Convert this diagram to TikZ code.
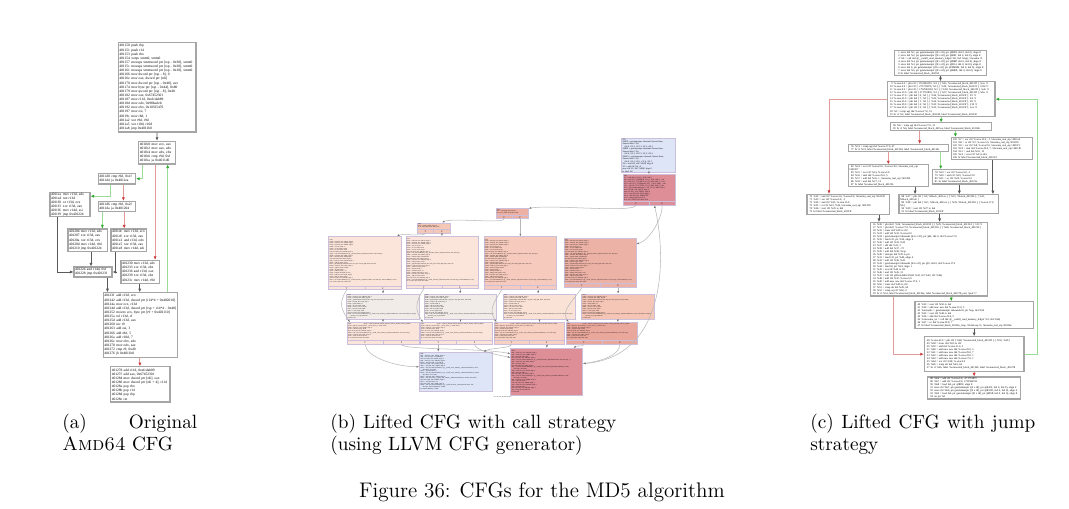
\documentclass[tikz,border=0pt]{standalone}
\usepackage{fontspec}
\usepackage{xcolor}
\usepackage{tikz}
\usetikzlibrary{arrows.meta,calc}
\newfontfamily\cfgfont{Liberation Serif}
\definecolor{coolblue}{HTML}{DDE5F7}
\definecolor{hotred}{HTML}{DD8E97}
\definecolor{warmA}{HTML}{EDB0A2}
\definecolor{warmB}{HTML}{F5C7B6}
\definecolor{warmC}{HTML}{F6CABC}
\definecolor{warmD}{HTML}{ECB2A6}
\definecolor{warmE}{HTML}{F5C5B6}
\definecolor{warmF}{HTML}{F8D1C3}
\definecolor{warmG}{HTML}{EAA89D}
\definecolor{paleA}{HTML}{FBE5DB}
\definecolor{paleC}{HTML}{FBE2D7}
\definecolor{greyA}{HTML}{F1ECE8}
\definecolor{recframe}{HTML}{CBBFDB}
\definecolor{llgray}{HTML}{B8B8B8}
\definecolor{takenline}{HTML}{9ADB9A}
\definecolor{takenhead}{HTML}{2EAA2E}
\definecolor{nottakenline}{HTML}{E59A9A}
\definecolor{nottakenhead}{HTML}{D03A3A}

\newcommand{\adr}[1]{\makebox[3.4em][l]{#1}}
\newcommand{\lno}[1]{\makebox[1.6em][r]{#1}\enspace}
\newcommand{\tfrow}{\rule[-2.5pt]{0pt}{0pt}}
\newcommand{\irround}[3]{%
\%#1:\\
\%a#1 = load i32, i32* \%ECX, align 4\\
\%b#1 = load i32, i32* \%EDX, align 4\\
\%c#1 = load i32, i32* \%EBX, align 4\\
\%d#1 = xor i32 \%c#1, -1\\
\%e#1 = or i32 \%d#1, \%b#1\\
\%f#1 = xor i32 \%e#1, \%a#1\\
store i32 \%f#1, i32* \%R13D, align 4\\
\%g#1 = call \%struct.Memory* @\_\_mcsema\_detach\_call(\%struct.State* \%0, i64 \%pc)\\
\%h#1 = load i64, i64* \%RSI, align 8\\
\%i#1 = and i64 \%h#1, 4294967295\\
store i64 \%i#1, i64* \%R14, align 8\\
\%j#1 = load i32, i32* \%R13D, align 4\\
\%k#1 = add i32 \%j#1, \%a#1\\
\%l#1 = getelementptr inbounds [64 x i32], [64 x i32]* @K, i64 0, i64 \%14\\
\%m#1 = load i32, i32* \%l#1, align 4\\
\%n#1 = add i32 \%k#1, \%m#1\\
\%o#1 = shl i64 \%i#1, 2\\
\%p#1 = add i64 \%o#1, -72\\
\%q#1 = inttoptr i64 \%p#1 to i32*\\
\%r#1 = load i32, i32* \%q#1, align 4\\
\%s#1 = add i32 \%n#1, \%r#1\\
store i32 \%s#1, i32* \%R13D, align 4\\
\%t#1 = call \%struct.Memory* @\_\_remill\_function\_call(\%struct.State* \%0, i64 \%pc, \%struct.Memory* \%12)\\
br i1 \%u#1, label \%#2, label \%#3\tfrow}
\newcommand{\irrot}[2]{%
\%#1:\\
\%a#1 = load i32, i32* \%R13D, align 4\\
\%b#1 = load i64, i64* \%R9, align 8\\
\%c#1 = getelementptr inbounds [64 x i8], [64 x i8]* @S, i64 0, i64 \%b#1\\
\%d#1 = load i8, i8* \%c#1, align 1\\
\%f#1 = and i8 \%d#1, 31\\
\%g#1 = shl i32 \%a#1, \%f#1\\
\%h#1 = sub nsw i32 32, \%f#1\\
\%i#1 = lshr i32 \%a#1, \%h#1\\
\%j#1 = or i32 \%g#1, \%i#1\\
store i32 \%j#1, i32* \%R13D, align 4\\
\%k#1 = tail call \%struct.Memory* @\_\_remill\_write\_memory\_32(\%struct.Memory* \%12, i64 \%b#1, i32 \%j#1)\\
\hspace*{1.5em}; mcsema\_real\_eip 0x40125a\\
br label \%#2}
\newcommand{\irmix}[3]{%
\%#1:\hspace{8em}; preds = \%block\_401230, \%block\_401224, \%block\_401204, \%block\_4011dc\\
\%a#1 = phi i32 [ \%s20, \%20 ], [ \%s32, \%32 ], [ \%s44, \%44 ]\\
\%b#1 = load i32, i32* \%EAX, align 4\\
\%c#1 = add i32 \%a#1, \%b#1\\
store i32 \%c#1, i32* \%R13D, align 4\\
\%d#1 = tail call \%struct.Memory* @\_\_remill\_write\_memory\_32(\%struct.Memory* \%12, i64 \%rsp)\\
\%e#1 = load i64, i64* \%R9, align 8\\
\%f#1 = icmp ult i64 \%e#1, 64\\
br i1 \%f#1, label \%#2, label \%#3\tfrow}

\tikzset{
  asmbox/.style={draw=black!35, line width=.6pt, fill=white, align=left, inner xsep=.6pt, inner ysep=.3pt, font=\cfgfont\fontsize{2}{2.35}\selectfont},
  ljbox/.style={asmbox, font=\cfgfont\fontsize{1.5}{1.72}\selectfont},
  irbox/.style={draw=recframe, line width=.3pt, align=left, inner xsep=.5pt, inner ysep=.3pt},
  recline/.style={draw=recframe, line width=.25pt},
  tfcell/.style={anchor=south, inner sep=.2pt, font=\cfgfont\fontsize{1.3}{1.3}\selectfont},
  tfrec/.style={append after command={\pgfextra{\edef\recname{\tikzlastnode}}
    ([yshift=2.2pt]\recname.south west) edge[recline] ([yshift=2.2pt]\recname.south east)
    ([yshift=2.2pt]\recname.south) edge[recline] (\recname.south)
    ($(\recname.south west)!.25!(\recname.south east)$) node[tfcell] {T}
    ($(\recname.south west)!.75!(\recname.south east)$) node[tfcell] {F}}},
  tkn/.style={draw=takenline, line width=.5pt, -{Latex[length=2pt,width=1.8pt,color=takenhead]}},
  ntk/.style={draw=nottakenline, line width=.5pt, -{Latex[length=2pt,width=1.8pt,color=nottakenhead]}},
  jmp/.style={draw=black!65, line width=.5pt, -{Latex[length=2pt,width=1.8pt]}},
  lledge/.style={draw=llgray, line width=.3pt, -{Latex[length=1.5pt,width=1.1pt,color=black!55]}},
  capt/.style={font=\fontsize{10.95}{12.6}\selectfont, align=left, inner sep=0pt, anchor=north west},
}

\begin{document}
\begin{tikzpicture}[x=0.02cm, y=-0.02cm]
\path[use as bounding box, fill=white] (0,0) rectangle (1069,509);%
% (a) original AMD64 CFG
\node[asmbox, text width=1.512cm, minimum height=1.786cm] (b1) at (157.15,87.35) {\adr{401150}push rbp\\\adr{401151}push r14\\\adr{401153}push rbx\\\adr{401154}xorps xmm0, xmm0\\\adr{401157}movaps xmmword ptr [rsp - 0x38], xmm0\\\adr{40115c}movaps xmmword ptr [rsp - 0x28], xmm0\\\adr{401161}movaps xmmword ptr [rsp - 0x18], xmm0\\\adr{401166}mov dword ptr [rsp - 8], 0\\\adr{40116e}mov eax, dword ptr [rdi]\\\adr{401170}mov dword ptr [rsp - 0x48], eax\\\adr{401174}mov byte ptr [rsp - 0x44], 0x80\\\adr{401179}mov qword ptr [rsp - 8], 0x40\\\adr{401182}mov eax, 0x67452301\\\adr{401187}mov r11d, 0xefcdab89\\\adr{40118d}mov edx, 0x98badcfe\\\adr{401192}mov ebx, 0x10325476\\\adr{401197}mov esi, 7\\\adr{40119c}mov r8d, 1\\\adr{4011a2}xor r9d, r9d\\\adr{4011a5}xor r10d, r10d\\\adr{4011a8}jmp 0x4011b0};%
\node[asmbox, text width=0.69cm, minimum height=0.454cm] (b2) at (157,152.65) {\adr{4011b0}mov ecx, eax\\\adr{4011b2}mov eax, edx\\\adr{4011b4}mov edx, ebx\\\adr{4011b6}cmp r9d, 0xf\\\adr{4011ba}ja 0x4011d0};%
\node[asmbox, text width=0.702cm, minimum height=0.21cm] (b3) at (116.9,178.75) {\adr{4011d0}cmp r9d, 0x1f\\\adr{4011d4}ja 0x4011ea};%
\node[asmbox, text width=0.758cm, minimum height=0.45cm] (b4) at (70,204.5) {\adr{4011ea}mov r13d, edx\\\adr{4011ed}not r13d\\\adr{4011f0}or r13d, ecx\\\adr{4011f3}xor r13d, eax\\\adr{4011f6}mov r14d, esi\\\adr{4011f9}jmp 0x401224};%
\node[asmbox, text width=0.702cm, minimum height=0.2cm] (b5) at (116.9,206.4) {\adr{4011d6}cmp r9d, 0x2f\\\adr{4011da}ja 0x401204};%
\node[asmbox, text width=0.748cm, minimum height=0.45cm] (b6) at (87.75,240.25) {\adr{401204}mov r13d, edx\\\adr{401207}xor r13d, eax\\\adr{40120a}xor r13d, ecx\\\adr{40120d}mov r14d, r8d\\\adr{401210}jmp 0x401224};%
\node[asmbox, text width=0.66cm, minimum height=0.45cm] (b7) at (128.55,240.25) {\adr{4011dc}mov r13d, ecx\\\adr{4011df}xor r13d, eax\\\adr{4011e2}and r13d, edx\\\adr{4011e5}xor r13d, eax\\\adr{4011e8}mov r14d, edi};%
\node[asmbox, text width=0.718cm, minimum height=0.2cm] (b8) at (93,272) {\adr{401224}and r14d, 0xf\\\adr{401228}jmp 0x40123f};%
\node[asmbox, text width=0.724cm, minimum height=0.46cm] (b9) at (140.15,271.8) {\adr{401230}mov r13d, edx\\\adr{401233}xor r13d, ebx\\\adr{401236}and r13d, eax\\\adr{401239}xor r13d, ebx\\\adr{40123c}mov r14d, r9d};%
\node[asmbox, text width=1.438cm, minimum height=1.292cm] (b10) at (140.3,325) {\adr{40123f}add r13d, ecx\\\adr{401242}add r13d, dword ptr [r14*4 + 0x402010]\\\adr{40124a}mov ecx, r13d\\\adr{40124d}add r13d, dword ptr [rsp + r14*4 - 0x48]\\\adr{401252}movzx ecx, byte ptr [r9 + 0x402110]\\\adr{40125a}rol r13d, cl\\\adr{40125d}add r13d, eax\\\adr{401260}inc r9\\\adr{401263}add esi, 3\\\adr{401266}add r8d, 5\\\adr{40126a}add r10d, 7\\\adr{40126e}mov ebx, edx\\\adr{401270}mov edx, eax\\\adr{401272}cmp r9, 0x40\\\adr{401276}jb 0x4011b0};%
\node[asmbox, text width=1.144cm, minimum height=0.706cm] (b11) at (140.35,384.35) {\adr{401278}add r11d, 0xefcdab89\\\adr{40127f}add eax, 0x67452301\\\adr{401284}mov dword ptr [rdi], eax\\\adr{401286}mov dword ptr [rdi + 4], r11d\\\adr{40128a}pop rbx\\\adr{40128b}pop r14\\\adr{40128d}pop rbp\\\adr{40128e}ret};%
\draw[jmp] (b1) -- (b2);%
\draw[tkn] ($(b2.south west)!.12!(b2.south east)$) |- (b3.east);%
\draw[ntk] ($(b2.south west)!.45!(b2.south east)$) coordinate (b2f) -- (b2f |- b9.north);%
\draw[tkn] ($(b10.north west)!.865!(b10.north east)$) coordinate (b10b) -- (b10b |- b2.south);%
\draw[tkn] ($(b3.south west)!.33!(b3.south east)$) |- ($(b4.north east)!.18!(b4.south east)$);%
\draw[ntk] ($(b3.south west)!.67!(b3.south east)$) coordinate (b3f) -- (b3f |- b5.north);%
\draw[tkn] ($(b5.south west)!.12!(b5.south east)$) coordinate (b5t) -- (b5t |- b6.north);%
\draw[ntk] ($(b5.south west)!.69!(b5.south east)$) coordinate (b5f) -- (b5f |- b7.north);%
\draw[jmp] ($(b4.south west)!.2!(b4.south east)$) |- (b8.west);%
\draw[jmp] ($(b6.south west)!.58!(b6.south east)$) coordinate (b6o) -- (b6o |- b8.north);%
\draw[jmp] ($(b7.south west)!.14!(b7.south east)$) |- (b8.east);%
\draw[jmp] ($(b8.south west)!.87!(b8.south east)$) coordinate (b8o) -- (b8o |- b10.north);%
\draw[jmp] ($(b9.south west)!.49!(b9.south east)$) coordinate (b9o) -- (b9o |- b10.north);%
\draw[ntk] ($(b10.south west)!.495!(b10.south east)$) coordinate (b10o) -- (b10o |- b11.north);%
% (b) lifted CFG, call strategy
\node[irbox, fill=coolblue, font=\cfgfont\fontsize{1.2}{1.4}\selectfont, text width=1.045cm, minimum height=0.614cm] (t1) at (648.7,155.35) {\%3:\\\%RSP = getelementptr inbounds \%struct.State, \%struct.State* \%0,\\\hspace*{1em}i64 0, i32 6, i32 13, i32 0, i32 0\\\%RBP = getelementptr inbounds \%struct.State, \%struct.State* \%0,\\\hspace*{1em}i64 0, i32 6, i32 15, i32 0, i32 0\\\%RAX = getelementptr inbounds \%struct.State, \%struct.State* \%0,\\\hspace*{1em}i64 0, i32 6, i32 1, i32 0, i32 0\\\%4 = load i64, i64* \%RSP, align 8\\\%5 = add i64 \%4, -8\\store i64 \%5, i64* \%RSP, align 8\\br label \%6};%
\node[irbox, tfrec, fill=hotred, font=\cfgfont\fontsize{1}{1.13}\selectfont, text width=0.999cm, minimum height=0.59cm] (t2) at (649.15,189.75) {\%6:\\\%7 = phi i64 [ 0, \%3 ], [ \%95, \%80 ]\\\%8 = phi i32 [ 1732584193, \%3 ], [ \%93, \%80 ], ; eax\\\%9 = phi i32 [ -271733879, \%3 ], [ \%92, \%80 ], ; r11d\\\%10 = phi i32 [ -1732584194, \%3 ], [ \%91, \%80 ], ; edx\\\%11 = phi i32 [ 271733878, \%3 ], [ \%90, \%80 ], ; ebx\\\%12 = phi \%struct.Memory* [ \%2, \%3 ], [ \%89, \%80 ]\\store i32 \%8, i32* \%ECX, align 4\\store i32 \%11, i32* \%EDX, align 4\\\%13 = load i64, i64* \%R9, align 8\\\%14 = and i64 \%13, 4294967295\\\%15 = icmp ugt i64 \%14, 15\\br i1 \%15, label \%16, label \%56\tfrow};%
\node[irbox, tfrec, fill=warmA, font=\cfgfont\fontsize{.9}{1}\selectfont, text width=0.611cm, minimum height=0.186cm] (t3) at (512.15,213.65) {\%16:\\\%17 = icmp ugt i64 \%14, 31\\br i1 \%17, label \%18, label \%44\tfrow};%
\node[irbox, tfrec, fill=warmB, font=\cfgfont\fontsize{.9}{1}\selectfont, text width=0.619cm, minimum height=0.18cm] (t4) at (433.65,227.8) {\%18:\\\%19 = icmp ugt i64 \%14, 47\\br i1 \%19, label \%20, label \%32\tfrow};%
\node[irbox, tfrec, fill=paleA, font=\cfgfont\fontsize{.85}{1}\selectfont, text width=1.411cm, minimum height=1.064cm] (r1) at (364.85,263.1) {\irround{20}{26}{28}};%
\node[irbox, tfrec, fill=paleA, font=\cfgfont\fontsize{.85}{1}\selectfont, text width=1.405cm, minimum height=1.04cm] (r2) at (442,262.5) {\irround{32}{38}{40}};%
\node[irbox, tfrec, fill=warmC, font=\cfgfont\fontsize{.85}{1}\selectfont, text width=1.405cm, minimum height=1.052cm] (r3) at (520,263) {\irround{44}{50}{52}};%
\node[irbox, tfrec, fill=warmD, font=\cfgfont\fontsize{.85}{1}\selectfont, text width=1.405cm, minimum height=0.98cm] (r4) at (600,262.8) {\irround{56}{62}{64}};%
\node[irbox, fill=greyA, font=\cfgfont\fontsize{.85}{1}\selectfont, text width=1.417cm, minimum height=0.496cm] (s1) at (383,306.4) {\irrot{28}{30}};%
\node[irbox, fill=greyA, font=\cfgfont\fontsize{.85}{1}\selectfont, text width=1.413cm, minimum height=0.496cm] (s2) at (460.5,306.4) {\irrot{40}{42}};%
\node[irbox, fill=paleC, font=\cfgfont\fontsize{.85}{1}\selectfont, text width=1.413cm, minimum height=0.496cm] (s3) at (539.5,306.4) {\irrot{52}{54}};%
\node[irbox, fill=warmE, font=\cfgfont\fontsize{.85}{1}\selectfont, text width=1.411cm, minimum height=0.496cm] (s4) at (617.85,306.4) {\irrot{64}{66}};%
\node[irbox, tfrec, fill=paleA, font=\cfgfont\fontsize{.85}{1}\selectfont, text width=1.405cm, minimum height=0.43cm] (u1) at (383.3,333.25) {\irmix{30}{96}{80}};%
\node[irbox, tfrec, fill=paleA, font=\cfgfont\fontsize{.85}{1}\selectfont, text width=1.409cm, minimum height=0.43cm] (u2) at (456.4,333.25) {\irmix{42}{96}{80}};%
\node[irbox, tfrec, fill=warmF, font=\cfgfont\fontsize{.85}{1}\selectfont, text width=1.371cm, minimum height=0.43cm] (u3) at (529.15,333.25) {\irmix{54}{96}{80}};%
\node[irbox, tfrec, fill=warmG, font=\cfgfont\fontsize{.85}{1}\selectfont, text width=1.399cm, minimum height=0.43cm] (u4) at (601.85,333.25) {\irmix{66}{80}{80}};%
\node[irbox, fill=coolblue, font=\cfgfont\fontsize{.9}{1}\selectfont, text width=1.415cm, minimum height=0.78cm] (v1) at (455.75,371.5) {\%96:\\\%97 = load i32, i32* \%EAX, align 4\\\%98 = add i32 \%97, 1732584193\\store i32 \%98, i32* \%EAX, align 4\\\%99 = load i32, i32* \%R11D, align 4\\\%100 = add i32 \%99, -271733879\\store i32 \%100, i32* \%R11D, align 4\\\%101 = load i64, i64* \%RDI, align 8\\\%102 = tail call \%struct.Memory* @\_\_remill\_write\_memory\_32(\%struct.Memory* \%12,\\\hspace*{1.5em}i64 \%101, i32 \%98)\\\%103 = add i64 \%101, 4\\\%104 = tail call \%struct.Memory* @\_\_remill\_write\_memory\_32(\%struct.Memory* \%102,\\\hspace*{1.5em}i64 \%103, i32 \%100)\\\%105 = load i64, i64* \%RSP, align 8\\\%106 = tail call i64 @\_\_remill\_read\_memory\_64(\%struct.Memory* \%104, i64 \%105)\\store i64 \%106, i64* \%RBX, align 8\\\%107 = add i64 \%105, 24\\store i64 \%107, i64* \%RSP, align 8\\\%108 = tail call \%struct.Memory* @\_\_remill\_function\_return(\%struct.State* \%0,\\\hspace*{1.5em}i64 \%pc, \%struct.Memory* \%104)\\ret \%struct.Memory* \%108};%
\node[irbox, fill=hotred, font=\cfgfont\fontsize{.9}{1}\selectfont, text width=1.405cm, minimum height=0.934cm] (v2) at (546.7,371.65) {\%80:\\\%81 = load i32, i32* \%R13D, align 4\\\%82 = load i32, i32* \%EBX, align 4\\\%83 = add i32 \%81, \%82\\store i32 \%83, i32* \%R13D, align 4\\\%84 = tail call \%struct.Memory* @\_\_remill\_function\_call(\%struct.State* \%0, i64 \%pc, ...)\\\%85 = load i64, i64* \%R9, align 8\\\%86 = add i64 \%85, 1\\store i64 \%86, i64* \%R9, align 8\\\%87 = tail call \%struct.Memory* @\_\_remill\_write\_memory\_64(\%struct.Memory* \%84,\\\hspace*{1.5em}i64 \%rsp, i64 \%86)\\\%88 = load i32, i32* \%ESI, align 4\\\%89 = add i32 \%88, 3\\store i32 \%89, i32* \%ESI, align 4\\\%90 = tail call \%struct.Memory* @\_\_remill\_write\_memory\_32(\%struct.Memory* \%87,\\\hspace*{1.5em}i64 \%rsp, i32 \%89)\\\%91 = load i32, i32* \%R8D, align 4\\\%92 = add i32 \%91, 5\\store i32 \%92, i32* \%R8D, align 4\\\%93 = load i32, i32* \%R10D, align 4\\\%94 = add i32 \%93, 7\\store i32 \%94, i32* \%R10D, align 4\\\%95 = icmp ult i64 \%86, 64\\br label \%6};%
\node[font=\cfgfont\fontsize{.8}{1}\selectfont, inner sep=0pt] (cfgname) at (502.5,397.5) {CFG for 'sub\_401150' function};%
\draw[lledge] (t1) -- (t2);%
\draw[lledge] ($(t2.south west)!.25!(t2.south east)$) .. controls +(-2,8) and +(25,-4) .. (t3.north east);%
\draw[lledge] ($(t2.south west)!.75!(t2.south east)$) .. controls +(0,15) and +(12,-3) .. ($(r4.north east)!.12!(r4.south east)$);%
\draw[lledge] ($(v2.north east)!.33!(v2.south east)$) .. controls +(85,-5) and +(12,50) .. ($(t2.south west)!.6!(t2.south east)$);%
\draw[lledge] ($(t3.south west)!.25!(t3.south east)$) .. controls +(0,5) and +(10,-5) .. ($(t4.north west)!.75!(t4.north east)$);%
\draw[lledge] ($(t3.south west)!.75!(t3.south east)$) coordinate (t3f) -- (t3f |- r3.north);%
\draw[lledge] ($(t4.south west)!.25!(t4.south east)$) .. controls +(0,4) and +(6,-3) .. ($(r1.north west)!.94!(r1.north east)$);%
\draw[lledge] ($(t4.south west)!.75!(t4.south east)$) coordinate (t4f) -- (t4f |- r2.north);%
\draw[lledge] ($(r1.south west)!.25!(r1.south east)$) .. controls +(-9,14) and +(-8,-12) .. ($(u1.north west)!.04!(u1.north east)$);%
\draw[lledge] ($(r1.south west)!.75!(r1.south east)$) coordinate (r1f) -- (r1f |- s1.north);%
\draw[lledge] (s1.south) -- (s1.south |- u1.north);%
\draw[lledge] ($(r2.south west)!.25!(r2.south east)$) .. controls +(-9,14) and +(-8,-12) .. ($(u2.north west)!.04!(u2.north east)$);%
\draw[lledge] ($(r2.south west)!.75!(r2.south east)$) coordinate (r2f) -- (r2f |- s2.north);%
\draw[lledge] (s2.south) -- (s2.south |- u2.north);%
\draw[lledge] ($(r3.south west)!.25!(r3.south east)$) .. controls +(-9,14) and +(-8,-12) .. ($(u3.north west)!.04!(u3.north east)$);%
\draw[lledge] ($(r3.south west)!.75!(r3.south east)$) coordinate (r3f) -- (r3f |- s3.north);%
\draw[lledge] (s3.south) -- (s3.south |- u3.north);%
\draw[lledge] ($(r4.south west)!.25!(r4.south east)$) .. controls +(-9,14) and +(-8,-12) .. ($(u4.north west)!.04!(u4.north east)$);%
\draw[lledge] ($(r4.south west)!.75!(r4.south east)$) coordinate (r4f) -- (r4f |- s4.north);%
\draw[lledge] (s4.south) -- (s4.south |- u4.north);%
\draw[lledge] ($(u1.south west)!.25!(u1.south east)$) .. controls +(0,12) and +(-25,0) .. ($(v1.north west)!.38!(v1.south west)$);%
\draw[lledge] ($(u1.south west)!.75!(u1.south east)$) .. controls +(0,6) and +(-30,-6) .. ($(v2.north west)!.12!(v2.south west)$);%
\draw[lledge] ($(u2.south west)!.25!(u2.south east)$) coordinate (u2t) -- (u2t |- v1.north);%
\draw[lledge] ($(u2.south west)!.75!(u2.south east)$) .. controls +(0,6) and +(-15,-3) .. ($(v2.north west)!.2!(v2.south west)$);%
\draw[lledge] ($(u3.south west)!.25!(u3.south east)$) .. controls +(0,4) and +(8,-4) .. ($(v1.north west)!.88!(v1.north east)$);%
\draw[lledge] ($(u3.south west)!.75!(u3.south east)$) coordinate (u3f) -- (u3f |- v2.north);%
\draw[lledge] ($(u4.south west)!.25!(u4.south east)$) .. controls +(0,3) and +(4,-3) .. ($(v2.north west)!.87!(v2.north east)$);%
\draw[lledge] ($(u4.south west)!.75!(u4.south east)$) .. controls +(0,12) and +(15,-2) .. ($(v2.north east)!.33!(v2.south east)$);%
% (c) lifted CFG, jump strategy
\node[ljbox, text width=1.806cm, minimum height=0.486cm] (c1) at (940.5,62.85) {\lno{1}store i64 \%1, ptr getelementptr ([8 x i8], ptr @RDI, i64 0, i64 0), align 8\\\lno{2}store i64 \%2, ptr getelementptr ([8 x i8], ptr @RSI, i64 0, i64 0), align 8\\\lno{3}\%4 = call i64 @\_\_remill\_read\_memory\_64(ptr \%0, i64 \%rsp), !mcsema !3\\\lno{4}store i64 \%4, ptr getelementptr ([8 x i8], ptr @RBP, i64 0, i64 0), align 8\\\lno{5}store i64 \%3, ptr getelementptr ([8 x i8], ptr @R14, i64 0, i64 0), align 8\\\lno{6}store i64 0, ptr getelementptr ([16 x i8], ptr @XMM0, i64 0, i64 0), align 8\\\lno{7}store i64 \%5, ptr getelementptr ([8 x i8], ptr @RBX, i64 0, i64 0), align 8\\\lno{8}br label \%connected\_block\_4011b0};%
\node[ljbox, text width=2.112cm, minimum height=0.7cm] (c2) at (941.15,99.2) {\lno{9}\%.sroa.0.0 = phi i32 [ 1732584193, \%3 ], [ \%41, \%connected\_block\_40123f ], !eax !1\\\lno{10}\%.sroa.5.0 = phi i32 [ -271733879, \%3 ], [ \%39, \%connected\_block\_40123f ], !r11d !1\\\lno{11}\%.sroa.9.0 = phi i32 [ -1732584194, \%3 ], [ \%38, \%connected\_block\_40123f ], !edx !1\\\lno{12}\%.sroa.13.0 = phi i32 [ 271733878, \%3 ], [ \%37, \%connected\_block\_40123f ], !ebx !1\\\lno{13}\%.sroa.17.0 = phi i64 [ 0, \%3 ], [ \%36, \%connected\_block\_40123f ], !r9 !1\\\lno{14}\%.sroa.21.0 = phi i64 [ 7, \%3 ], [ \%35, \%connected\_block\_40123f ], !rsi !1\\\lno{15}\%.sroa.25.0 = phi i64 [ 1, \%3 ], [ \%34, \%connected\_block\_40123f ], !r8 !1\\\lno{16}\%.sroa.29.0 = phi i64 [ 0, \%3 ], [ \%33, \%connected\_block\_40123f ], !r10 !1\\\lno{17}\%.sroa.33.0 = phi i32 [ 0, \%3 ], [ \%32, \%connected\_block\_40123f ], !ecx !1\\\lno{18}\%5 = icmp ugt i64 \%.sroa.17.0, 15\\\lno{19}br i1 \%5, label \%connected\_block\_4011d0, label \%connected\_block\_401230};%
\node[ljbox, text width=1.982cm, minimum height=0.16cm] (c3) at (941.1,126.9) {\lno{58}\%6 = icmp ugt i64 \%.sroa.17.0, 31\\\lno{59}br i1 \%6, label \%connected\_block\_4011ea, label \%connected\_block\_4011d6};%
\node[ljbox, text width=1.574cm, minimum height=0.436cm] (c4) at (992.1,148.4) {\lno{100}\%7 = xor i32 \%.sroa.13.0, -1, !mcsema\_real\_eip !4011ed\\\lno{101}\%8 = or i32 \%7, \%.sroa.5.0, !mcsema\_real\_eip !4011f0\\\lno{102}\%9 = xor i32 \%8, \%.sroa.9.0, !mcsema\_real\_eip !4011f3\\\lno{103}\%10 = mul i64 \%.sroa.29.0, 7, !mcsema\_real\_eip !4011f6\\\lno{104}\%11 = and i64 \%10, 15\\\lno{105}\%12 = zext i32 \%9 to i64\\\lno{106}br label \%connected\_block\_401224};%
\node[ljbox, text width=1.954cm, minimum height=0.144cm] (c5) at (898.4,148.1) {\lno{76}\%13 = icmp ugt i64 \%.sroa.17.0, 47\\\lno{77}br i1 \%13, label \%connected\_block\_401204, label \%connected\_block\_4011dc};%
\node[ljbox, text width=1.554cm, minimum height=0.38cm] (c6) at (888.4,175.5) {\lno{82}\%14 = xor i32 \%.sroa.9.0, \%.sroa.13.0, !mcsema\_real\_eip !401207\\\lno{83}\%15 = xor i32 \%14, \%.sroa.5.0\\\lno{84}\%16 = mul i64 \%.sroa.25.0, 5\\\lno{85}\%17 = add i64 \%16, 1, !mcsema\_real\_eip !40120d\\\lno{86}\%18 = and i64 \%17, 15\\\lno{87}br label \%connected\_block\_401224};%
\node[ljbox, text width=1.062cm, minimum height=0.286cm] (c7) at (959.9,176.85) {\lno{78}\%19 = xor i32 \%.sroa.5.0, -1\\\lno{79}\%20 = and i32 \%19, \%.sroa.13.0\\\lno{80}\%21 = or i32 \%20, \%.sroa.9.0\\\lno{81}br label \%connected\_block\_40121a};%
\node[ljbox, text width=1.604cm, minimum height=0.4cm] (c8) at (848.15,204.5) {\lno{70}\%22 = and i32 \%.sroa.5.0, \%.sroa.9.0, !mcsema\_real\_eip !401230\\\lno{71}\%23 = xor i32 \%.sroa.5.0, -1\\\lno{72}\%24 = and i32 \%23, \%.sroa.13.0\\\lno{73}\%25 = or i32 \%22, \%24, !mcsema\_real\_eip !401239\\\lno{74}\%26 = zext i32 \%25 to i64\\\lno{75}br label \%connected\_block\_40123f};%
\node[ljbox, text width=1.944cm, minimum height=0.336cm] (c9) at (948.65,203.9) {\lno{88}\%27 = phi i32 [ \%9, \%block\_4011ea ], [ \%15, \%block\_401204 ], [ \%21, \%block\_4011dc ]\\\lno{89}\%28 = phi i64 [ \%11, \%block\_4011ea ], [ \%18, \%block\_401204 ], [ \%.sroa.17.0, \%b ]\\\lno{90}\%29 = zext i32 \%27 to i64\\\lno{91}br label \%connected\_block\_40123f};%
\node[ljbox, text width=2.294cm, minimum height=1.47cm] (c10) at (928.9,259.25) {\lno{16}\%30 = phi i64 [ \%26, \%connected\_block\_401230 ], [ \%29, \%connected\_block\_401224 ], !r13 !1\\\lno{17}\%31 = phi i64 [ \%.sroa.17.0, \%connected\_block\_401230 ], [ \%28, \%connected\_block\_401224 ]\\\lno{18}\%32 = trunc i64 \%30 to i32\\\lno{19}\%33 = add i32 \%32, \%.sroa.0.0\\\lno{20}\%34 = getelementptr inbounds [64 x i32], ptr @K, i64 0, i64 \%.sroa.17.0\\\lno{21}\%35 = load i32, ptr \%34, align 4\\\lno{22}\%36 = add i32 \%33, \%35\\\lno{23}\%37 = shl i64 \%31, 2\\\lno{24}\%38 = add i64 \%37, -72\\\lno{25}\%39 = add i64 \%38, \%rsp\\\lno{26}\%40 = inttoptr i64 \%39 to ptr\\\lno{27}\%41 = load i32, ptr \%40, align 4\\\lno{28}\%42 = add i32 \%36, \%41\\\lno{29}\%43 = getelementptr inbounds [64 x i8], ptr @S, i64 0, i64 \%.sroa.17.0\\\lno{30}\%44 = load i8, ptr \%43, align 1\\\lno{31}\%45 = zext i8 \%44 to i32\\\lno{32}\%46 = and i32 \%45, 31\\\lno{33}\%47 = call i32 @llvm.fshl.i32(i32 \%42, i32 \%42, i32 \%46)\\\lno{34}\%48 = add i32 \%47, \%.sroa.5.0\\\lno{35}\%49 = add nuw nsw i64 \%.sroa.17.0, 1\\\lno{36}\%50 = trunc i64 \%49 to i32\\\lno{37}\%51 = icmp ult i64 \%49, 64\\\lno{38}\%52 = icmp eq i32 \%50, 0\\\lno{39}br i1 \%51, label \%connected\_block\_40126e, label \%connected\_block\_401278\_exit, !prof !7};%
\node[ljbox, text width=2.324cm, minimum height=0.532cm] (c11) at (974.15,315) {\lno{40}\%53 = zext i32 \%50 to i64\\\lno{41}\%54 = add nuw nsw i64 \%.sroa.21.0, 3\\\lno{42}\%arrayidx = getelementptr inbounds i8, ptr \%sp, i64 \%54\\\lno{43}\%55 = zext i32 \%48 to i64\\\lno{44}\%56 = add i64 \%.sroa.25.0, 5\\\lno{45}\%.mcsema\_ret = call i64 @\_\_remill\_read\_memory\_64(ptr \%2, i64 \%56)\\\lno{46}\%57 = or i64 \%.sroa.29.0, 7\\\lno{47}br label \%connected\_block\_40126e\_loop, !llvm.loop !5, !mcsema\_real\_eip !40126e};%
\node[ljbox, text width=1.952cm, minimum height=0.7cm] (c12) at (974.15,354.2) {\lno{48}\%.sroa.45.0 = phi i32 [ \%48, \%connected\_block\_40123f ], [ \%55, \%40 ]\\\lno{49}\%58 = trunc i64 \%53 to i32\\\lno{50}\%59 = add i64 \%.sroa.21.0, 3\\\lno{51}\%60 = add nuw nsw i64 \%.sroa.25.0, 5\\\lno{52}\%61 = add nuw nsw i64 \%.sroa.29.0, 7\\\lno{53}\%62 = add nuw nsw i64 \%.sroa.33.0, 1\\\lno{54}\%63 = add nuw nsw i64 \%.sroa.17.0, 1\\\lno{55}\%64 = xor i32 \%58, \%.sroa.9.0\\\lno{56}\%65 = icmp ult i64 \%63, 64\\\lno{57}br i1 \%65, label \%connected\_block\_4011b0, label \%connected\_block\_401278};%
\node[ljbox, text width=1.818cm, minimum height=0.44cm] (c13) at (974.2,388) {\lno{88}\%66 = add i32 \%.sroa.5.0, -271733879\\\lno{89}\%67 = add i32 \%.sroa.0.0, 1732584193\\\lno{90}\%68 = load i64, ptr @RDI, align 8\\\lno{91}store i32 \%67, ptr getelementptr ([4 x i8], ptr @EAX, i64 0, i64 0), align 4\\\lno{92}store i32 \%66, ptr getelementptr ([4 x i8], ptr @R11D, i64 0, i64 0), align 4\\\lno{93}\%69 = load i64, ptr getelementptr ([8 x i8], ptr @RSP, i64 0, i64 0), align 8\\\lno{94}ret ptr \%2};%
\draw[jmp] (c1.south) -- (c1.south |- c2.north);%
\draw[tkn] (c2.south) -- (c2.south |- c3.north);%
\draw[ntk] (c2.west) -| ($(c8.north west)!.27!(c8.north east)$);%
\draw[tkn] (c12.east) -- ++(12.5,0) |- (c2.east);%
\draw[ntk] ($(c3.south west)!.29!(c3.south east)$) coordinate (c3f) -- (c3f |- c5.north);%
\draw[tkn] ($(c3.south west)!.64!(c3.south east)$) coordinate (c3t) -- (c3t |- c4.north);%
\draw[ntk] ($(c5.south west)!.4!(c5.south east)$) coordinate (c5f) -- (c5f |- c6.north);%
\draw[tkn] ($(c5.south west)!.92!(c5.south east)$) coordinate (c5t) -- (c5t |- c7.north);%
\draw[jmp] ($(c6.south west)!.83!(c6.south east)$) coordinate (c6o) -- (c6o |- c9.north);%
\draw[jmp] ($(c7.south west)!.49!(c7.south east)$) coordinate (c7o) -- (c7o |- c9.north);%
\draw[jmp] ($(c4.south west)!.51!(c4.south east)$) coordinate (c4o) -- (c4o |- c9.north);%
\draw[jmp] ($(c8.south west)!.87!(c8.south east)$) coordinate (c8o) -- (c8o |- c10.north);%
\draw[jmp] ($(c9.south west)!.41!(c9.south east)$) coordinate (c9o) -- (c9o |- c10.north);%
\draw[tkn] ($(c10.south west)!.69!(c10.south east)$) coordinate (c10t) -- (c10t |- c11.north);%
\draw[ntk] ($(c10.south west)!.195!(c10.south east)$) |- (c12.west);%
\draw[jmp] (c11.south) -- (c11.south |- c12.north);%
\draw[ntk] (c12.south) -- (c12.south |- c13.north);%
% captions
\node[capt] (capa) at (62,414) {\makebox[2.7cm][s]{(a) Original}\\\textsc{Amd64} CFG};%
\node[capt] (capb) at (330,414) {\makebox[5.72cm][s]{(b) Lifted CFG with call strategy}\\(using LLVM CFG generator)};%
\node[capt] (capc) at (810,414) {\makebox[4.5cm][s]{(c) Lifted CFG with jump}\\strategy};%
\node[font=\fontsize{12}{14.4}\selectfont, anchor=base, inner sep=0pt] (figcap) at (542,498) {Figure 36: CFGs for the MD5 algorithm};%
\end{tikzpicture}
\end{document}
